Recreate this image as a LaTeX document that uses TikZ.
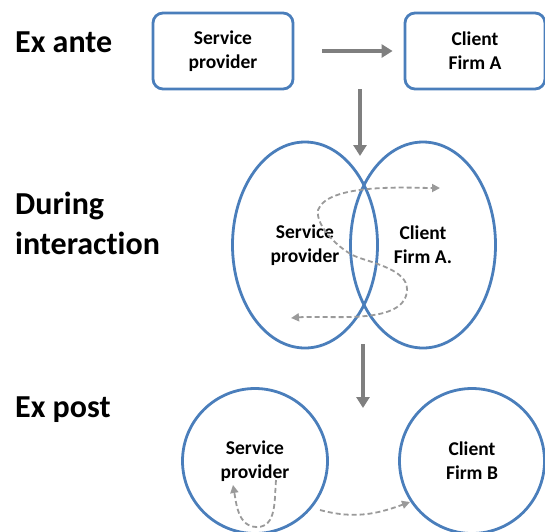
\documentclass[tikz,border=0pt]{standalone}
\usepackage{fontspec}
\setmainfont[Ligatures=NoCommon]{Carlito}
\usetikzlibrary{positioning}
\usetikzlibrary{shapes.geometric}
\usetikzlibrary{arrows.meta}

\definecolor{frameblue}{HTML}{4A7EBB}
\definecolor{arrgray}{HTML}{7F7F7F}
\definecolor{dashgray}{HTML}{9A9A9A}

\begin{document}
\begin{tikzpicture}
		[x=1pt, y=-1pt,
		head/.style = {anchor=west, inner sep=0pt, font=\bfseries\fontsize{32}{38}\selectfont},
		lbl/.style = {align=center, font=\bfseries\fontsize{19.5}{24}\selectfont},
		box/.style = {lbl, draw=frameblue, line width=2.8pt, rounded corners=10pt, minimum width=140pt, minimum height=76pt},
		oval/.style = {lbl, draw=frameblue, line width=2.8pt, ellipse, minimum width=145pt, minimum height=206pt},
		ring/.style = {lbl, draw=frameblue, line width=2.8pt, circle, minimum size=145pt},
		arr/.style = {draw=arrgray, line width=3.5pt, -{Triangle[length=11pt,width=13pt]}},
		flow/.style = {draw=dashgray, line width=1.8pt, dash pattern=on 5pt off 3pt}]
	\useasboundingbox (0,0) rectangle (545,531);
	\begin{scope}
	\clip (0,0) rectangle (545,531);
	% headings
	\node[head] (h1) at (15,42) {Ex ante};
	\node[head] (h2) at (15,206) {During};
	\node[head] (h3) at (15,243) {interaction};
	\node[head] (h4) at (15,410) {Ex post};
	% ex ante
	\node[box] (sp1) at (223,51) {Service\\provider};
	\node[box] (cf1) at (475,51) {Client\\Firm A};
	\draw[arr, shorten <=28pt, shorten >=11pt] (sp1) -- (cf1);
	% during interaction
	\node[oval] (sp2) at (305,245) {Service\\provider};
	\node[oval] (cf2) at (423,245) {Client\\Firm A.};
	\coordinate (a1) at (360,89);
	\coordinate (a2) at (360,156);
	\draw[arr] (a1) -- (a2);
	\coordinate (s1) at (291,318);
	\coordinate (s2) at (407,289);
	\coordinate (s3) at (357,257);
	\coordinate (s4) at (318,210);
	\coordinate (s5) at (440,188);
	\draw[flow, {Triangle[length=8pt,width=8pt]}-{Triangle[length=8pt,width=8pt]}]
		(s1) to[out=5,in=-90,looseness=0.8] (s2) to[out=90,in=-20,looseness=0.8] (s3)
		to[out=160,in=-100,looseness=0.7] (s4) to[out=70,in=180,looseness=0.6] (s5);
	% ex post
	\coordinate (a3) at (363,344);
	\coordinate (a4) at (363,408);
	\draw[arr] (a3) -- (a4);
	\node[ring] (sp3) at (255,461) {Service\\provider};
	\node[ring] (cf3) at (472,461) {Client\\Firm B};
	\coordinate (p1) at (276,480);
	\coordinate (p2) at (257,527);
	\coordinate (p3) at (233,485);
	\draw[flow, -{Triangle[length=8pt,width=8pt]}]
		(p1) to[out=-95,in=0] (p2) to[out=180,in=-80] (p3);
	\coordinate (q1) at (320,510);
	\coordinate (q2) at (410,502);
	\draw[flow, -{Triangle[length=8pt,width=8pt]}]
		(q1) to[out=-15,in=200] (q2);
	\end{scope}
\end{tikzpicture}
\end{document}
